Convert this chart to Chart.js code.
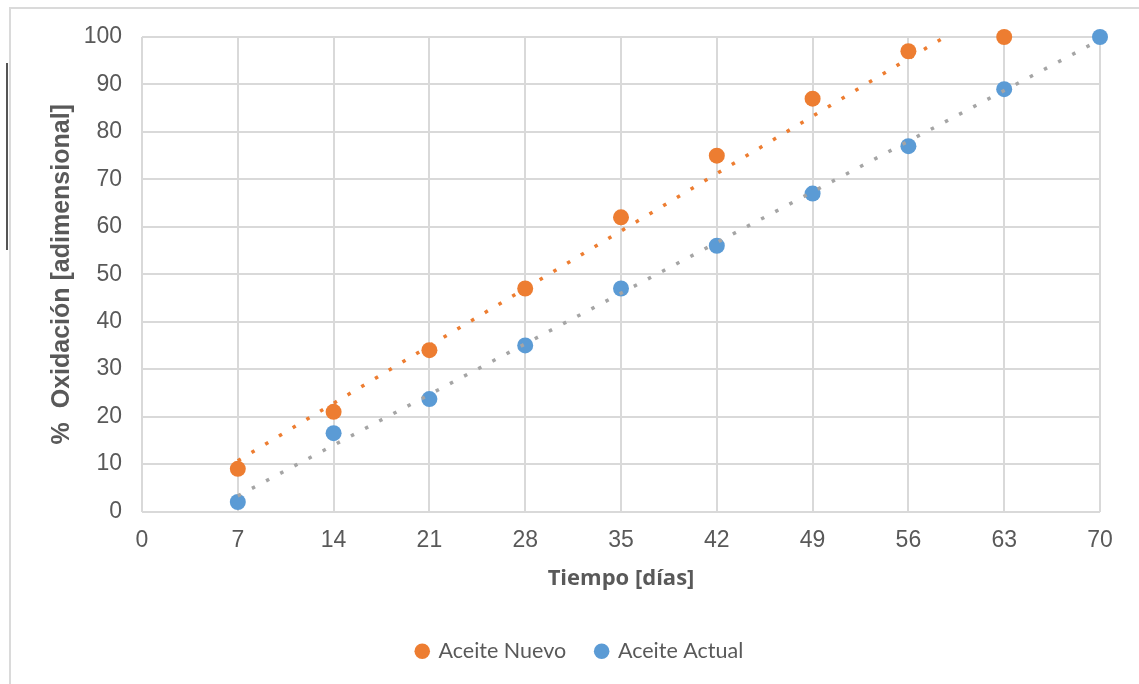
<!DOCTYPE html>
<html>
<head>
<meta charset="utf-8">
<script src="https://cdn.jsdelivr.net/npm/chart.js@4/dist/chart.umd.min.js"></script>
<style>
  body { margin: 0; background: #fff; }
  #wrap { position: relative; width: 1139px; height: 684px; overflow: hidden; }
  #frame { position: absolute; left: 9px; top: 7px; right: -5px; bottom: -5px;
           border-left: 2px solid #dadada; border-top: 2px solid #dadada; }
  #mark { position: absolute; left: 6px; top: 63px; width: 2px; height: 187px; background: #555; }
  canvas { position: absolute; left: 0; top: 0; }
</style>
</head>
<body>
<div id="wrap">
  <div id="frame"></div>
  <div id="mark"></div>
  <canvas id="myChart" width="1139" height="684"></canvas>
</div>
<script>
// datos
var dias = [7, 14, 21, 28, 35, 42, 49, 56, 63, 70];
var aceiteNuevo = [9, 21, 34, 47, 62, 75, 87, 97, 100];
var aceiteActual = [2, 16.5, 23.7, 35, 47, 56, 67, 77, 89, 100];

// lineas de tendencia (extremos)
var tendNuevoX = [7, 58.65];
var tendNuevoY = [10.7, 100];
var tendActualX = [7, 70];
var tendActualY = [3.3, 99.4];

var xTicks = [0, 7, 14, 21, 28, 35, 42, 49, 56, 63, 70];
var yTicks = [0, 10, 20, 30, 40, 50, 60, 70, 80, 90, 100];

function toPoints(xs, ys){
  return ys.map((y, i) => ({x: xs[i], y: y}));
}

Chart.defaults.font.family = '"Liberation Sans", Arial, sans-serif';
Chart.defaults.color = '#595959';

var grid = '#d9d9d9';

var ctx = document.getElementById('myChart').getContext('2d');
var chart = new Chart(ctx, {
  type: 'scatter',
  data: {
    datasets: [
      {
        label: 'Aceite Nuevo',
        data: toPoints(dias, aceiteNuevo),
        backgroundColor: '#ed7d31',
        borderColor: '#ed7d31',
        pointRadius: 8,
        pointBorderWidth: 0,
        clip: false,
        order: 2
      },
      {
        label: 'Aceite Actual',
        data: toPoints(dias, aceiteActual),
        backgroundColor: '#5b9bd5',
        borderColor: '#5b9bd5',
        pointRadius: 8,
        pointBorderWidth: 0,
        clip: false,
        order: 2
      },
      {
        label: 'tend1',
        type: 'line',
        data: toPoints(tendNuevoX, tendNuevoY),
        borderColor: '#ed7d31',
        borderWidth: 3.5,
        borderDash: [3.5, 12.5],
        borderCapStyle: 'butt',
        pointRadius: 0,
        fill: false,
        clip: false,
        order: 1
      },
      {
        label: 'tend2',
        type: 'line',
        data: toPoints(tendActualX, tendActualY),
        borderColor: '#a5a5a5',
        borderWidth: 3.5,
        borderDash: [3.5, 12.5],
        borderCapStyle: 'butt',
        pointRadius: 0,
        fill: false,
        clip: false,
        order: 1
      }
    ]
  },
  options: {
    responsive: false,
    animation: false,
    events: [],
    layout: { padding: { left: 21, right: 0, top: 37, bottom: 12 } },
    plugins: {
      tooltip: { enabled: false },
      legend: {
        position: 'bottom',
        labels: {
          filter: item => item.text.indexOf('tend') !== 0,
          usePointStyle: true,
          pointStyle: 'circle',
          boxWidth: 11,
          boxHeight: 11,
          padding: 30,
          color: '#595959',
          font: { family: 'Lato, "Open Sans", sans-serif', size: 21.5 }
        }
      }
    },
    scales: {
      x: {
        type: 'linear',
        min: 0,
        max: 70,
        afterBuildTicks: s => { s.ticks = xTicks.map(v => ({value: v})); },
        afterFit: s => { s.height = 99; s.paddingLeft = 0; s.paddingRight = 0; },
        grid: { color: grid, lineWidth: 2, drawTicks: false },
        border: { display: false },
        ticks: { padding: 15, font: { size: 23 }, maxRotation: 0 },
        title: {
          display: true,
          text: 'Tiempo [días]',
          color: '#595959',
          font: { family: '"Open Sans", Lato, sans-serif', size: 22, weight: 'bold' },
          padding: { top: 4, bottom: 19 }
        }
      },
      y: {
        min: 0,
        max: 100,
        afterBuildTicks: s => { s.ticks = yTicks.map(v => ({value: v})); },
        afterFit: s => { s.width = 121; s.paddingTop = 0; s.paddingBottom = 0; },
        grid: { color: grid, lineWidth: 2, drawTicks: false },
        border: { display: false },
        ticks: { padding: 20, font: { size: 23 } },
        title: {
          display: true,
          text: '%  Oxidación [adimensional]',
          color: '#595959',
          font: { size: 25, weight: 'bold' },
          padding: { top: 26, bottom: 4 }
        }
      },
      yR: {
        position: 'right',
        min: 0,
        max: 100,
        afterFit: s => { s.width = 39; s.paddingTop = 0; s.paddingBottom = 0; },
        grid: { drawOnChartArea: false, drawTicks: false },
        border: { display: false },
        ticks: { display: false }
      }
    }
  }
});
</script>
</body>
</html>
